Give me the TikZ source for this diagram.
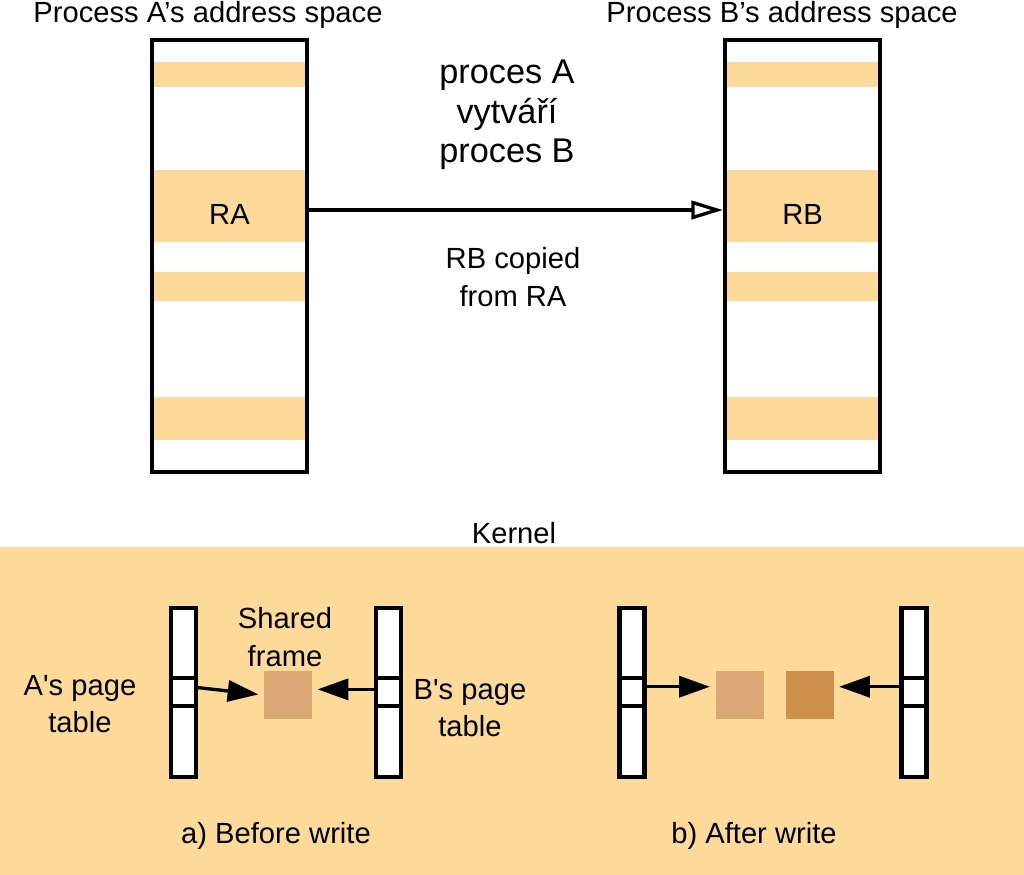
\documentclass[tikz,border=0pt]{standalone}
\usepackage{fontspec}
\setmainfont{Liberation Sans}
\usetikzlibrary{arrows.meta}
\definecolor{stripe}{HTML}{FDDA9A}
\definecolor{kernelbg}{HTML}{FDDA9A}
\definecolor{sharedfr}{HTML}{D9A874}
\definecolor{writtenfr}{HTML}{CC8F4C}

\begin{document}
\begin{tikzpicture}[x=0.02cm,y=-0.02cm,
  every node/.style={font=\fontsize{16.6}{21.5}\selectfont,inner sep=0pt},
  space/.style={draw,line width=2.3pt,minimum width=3.1cm,minimum height=8.64cm},
  strip/.style={fill=stripe,minimum width=3.1cm},
  cell/.style={draw,fill=white,line width=2.3pt,minimum width=0.5cm},
  frame/.style={minimum width=0.96cm,minimum height=0.96cm},
  ptr/.style={-{Triangle[length=17.5pt,width=12pt]},line width=1.9pt,shorten >=3pt}]
\useasboundingbox (0,0) rectangle (1024,875);
% address spaces
\foreach \x/\n in {229.5/A,802.5/B} {
  \node[strip,minimum height=0.5cm] (s1\n) at (\x,74.5) {};
  \node[strip,minimum height=0.58cm] (s3\n) at (\x,286.5) {};
  \node[strip,minimum height=0.86cm] (s4\n) at (\x,418.5) {};
}
\node[strip,minimum height=1.44cm] (ra) at (229.5,206) {};
\node[strip,minimum height=1.44cm] (rb) at (802.5,206) {};
\node (ralbl) at ([yshift=-5pt]ra.center) {RA};
\node (rblbl) at ([yshift=-5pt]rb.center) {RB};
\node[space] (spaceA) at (229.5,256) {};
\node[space] (spaceB) at (802.5,256) {};
\node (titleA) at (208,15) {Process A’s address space};
\node (titleB) at (782,15) {Process B’s address space};
\draw[-{Triangle[open,length=18pt,width=10.5pt]},line width=1.9pt,shorten >=1pt]
  ([yshift=-2.3pt]ra.east) -- ([yshift=-2.3pt]rb.west);
\node[align=center,font=\fontsize{19.5}{22.5}\selectfont] (fork) at (507,115)
  {proces A\\vytváří\\proces B};
\node[align=center] (copied) at (513,277) {RB copied\\from RA};
% kernel
\fill[kernelbg] (0,547) rectangle (1024,875);
\node (kernel) at (514,533) {Kernel};
\foreach \x/\n in {183.5/pa,388.5/pb,632/qa,914/qb} {
  \node[cell,minimum height=1.4cm] (\n-top) at (\x,643) {};
  \node[cell,minimum height=0.56cm] (\n-mid) at (\x,692) {};
  \node[cell,minimum height=1.42cm] (\n-bot) at (\x,741.5) {};
}
\node[frame,fill=sharedfr] (shared) at (288,695) {};
\node[frame,fill=sharedfr] (oldfr) at (739.5,695) {};
\node[frame,fill=writtenfr] (newfr) at (809.5,695) {};
\coordinate (pa-out) at ([yshift=2.5pt]pa-mid.east);
\coordinate (pb-out) at ([yshift=1.5pt]pb-mid.west);
\coordinate (qa-out) at ([xshift=-1.5pt,yshift=3pt]qa-mid.east);
\coordinate (qb-out) at ([yshift=3pt]qb-mid.west);
\draw[ptr] (pa-out) -- (shared.west);
\draw[ptr] (pb-out) -- (pb-out -| shared.east);
\draw[ptr] (qa-out) -- (qa-out -| oldfr.west);
\draw[ptr] (qb-out) -- (qb-out -| newfr.east);
\node[align=center] (sharedlbl) at (285,637) {Shared\\frame};
\node[align=center] (ptA) at (80,704) {A\textquotesingle s page\\table};
\node[align=center] (ptB) at (470,708) {B\textquotesingle s page\\table};
\node (before) at (276,836) {a) Before write};
\node (after) at (754,836) {b) After write};
\end{tikzpicture}
\end{document}
